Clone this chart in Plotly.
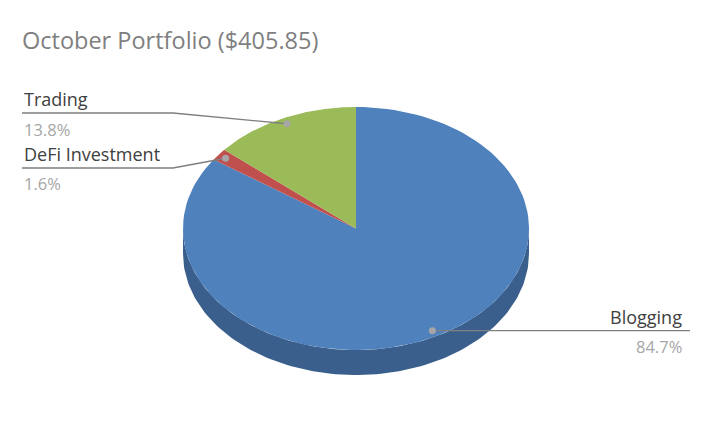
import numpy as np
import plotly.graph_objects as go

# Portfolio split, October
categories = ["Blogging", "DeFi Investment", "Trading"]
shares = [84.7, 1.6, 13.8]
pct_labels = ["84.7%", "1.6%", "13.8%"]
title_text = "October Portfolio ($405.85)"

TOP_COLOURS = ["#4F81BD", "#C0504D", "#9BBB59"]
SIDE_COLOURS = ["#3A5F8C", "#8E3B39", "#738B42"]

# geometry of the tilted pie, in pixel units of the page
CX, CY = 356, 228.5
RX, RY = 173, 121.5
DEPTH = 25
OFF = 8  # default body margin of the html page


def ellipse_pts(a0, a1, dy=0, n=120):
    # angles in degrees, clockwise from 12 o'clock
    t = np.radians(np.linspace(a0, a1, n))
    return CX + RX * np.sin(t), CY - RY * np.cos(t) + dy


total = sum(shares)
bounds = np.concatenate([[0], np.cumsum(shares) / total * 360])

fig = go.Figure()

# sides (front half only: 90..270 degrees)
for i in range(len(categories)):
    s0, s1 = max(bounds[i], 90), min(bounds[i + 1], 270)
    if s1 <= s0:
        continue
    xt, yt = ellipse_pts(s0, s1)
    xb, yb = ellipse_pts(s1, s0, dy=DEPTH)
    fig.add_trace(go.Scatter(
        x=np.concatenate([xt, xb]), y=np.concatenate([yt, yb]),
        fill="toself", mode="lines", line=dict(width=0),
        fillcolor=SIDE_COLOURS[i], hoverinfo="skip", showlegend=False))

# tops
for i in range(len(categories)):
    xa, ya = ellipse_pts(bounds[i], bounds[i + 1])
    fig.add_trace(go.Scatter(
        x=np.concatenate([[CX], xa, [CX]]), y=np.concatenate([[CY], ya, [CY]]),
        fill="toself", mode="lines", line=dict(width=0),
        fillcolor=TOP_COLOURS[i], name=categories[i],
        text=pct_labels[i], hoverinfo="name+text", showlegend=False))

# leader lines and dots
mid = (bounds[:-1] + bounds[1:]) / 2
dots_x, dots_y = [], []
for m in mid:
    t = np.radians(m)
    dots_x.append(CX + 0.95 * RX * np.sin(t))
    dots_y.append(CY - 0.95 * RY * np.cos(t))

label_pos = {
    "Trading": dict(x=22, y=99, py=129, ly=113, anchor="left"),
    "DeFi Investment": dict(x=22, y=154, py=183, ly=168, anchor="left"),
    "Blogging": dict(x=684, y=317, py=346, ly=330, anchor="right"),
}

for i, cat in enumerate(categories):
    p = label_pos[cat]
    if p["anchor"] == "left":
        lx = [22, 173, dots_x[i]]
        ly = [p["ly"], p["ly"], dots_y[i]]
    else:
        lx = [dots_x[i], 690]
        ly = [dots_y[i], dots_y[i]]
    fig.add_trace(go.Scatter(x=lx, y=ly, mode="lines",
                             line=dict(color="#7F7F7F", width=1.3),
                             hoverinfo="skip", showlegend=False))
    fig.add_annotation(x=p["x"], y=p["y"], text=cat, showarrow=False,
                       xanchor=p["anchor"], yanchor="middle",
                       font=dict(size=18, color="#404040", family="Open Sans"))
    fig.add_annotation(x=p["x"], y=p["py"], text=pct_labels[i], showarrow=False,
                       xanchor=p["anchor"], yanchor="middle",
                       font=dict(size=16.5, color="#A6A6A6", family="Open Sans"))

fig.add_trace(go.Scatter(x=dots_x, y=dots_y, mode="markers",
                         marker=dict(size=7, color="#A6A6A6"),
                         hoverinfo="skip", showlegend=False))

fig.add_annotation(x=20, y=40, text=title_text, showarrow=False,
                   xanchor="left", yanchor="middle",
                   font=dict(size=23.5, color="#7F7F7F", family="Open Sans"))

fig.update_layout(
    width=708 - OFF, height=436 - OFF,
    margin=dict(l=0, r=0, t=0, b=0),
    plot_bgcolor="white", paper_bgcolor="white",
    xaxis=dict(range=[OFF, 708], visible=False, fixedrange=True),
    yaxis=dict(range=[436, OFF], visible=False, fixedrange=True),
    showlegend=False,
)

fig.write_html("out.html")
